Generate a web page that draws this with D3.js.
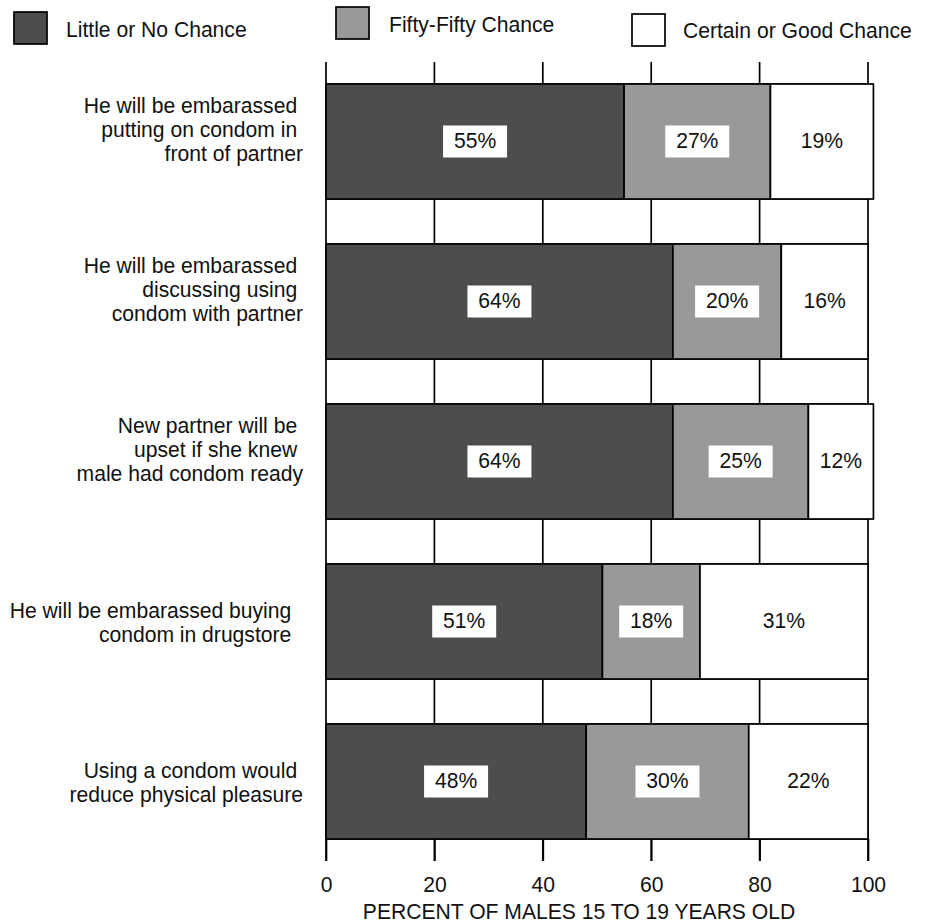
<!DOCTYPE html>
<html><head><meta charset="utf-8">
<script src="https://cdn.jsdelivr.net/npm/d3@7"></script>
<style>
body{margin:0;background:#fff}
text{font-family:"Liberation Sans",Arial,Helvetica,sans-serif;fill:#111;white-space:pre}
</style>
</head><body><svg id="c" width="931" height="923"></svg>
<script>
// ---- data ----
const categories = ["putting", "discussing", "upset", "buying", "pleasure"];
const categoryLines = [
  ["He will be embarassed ", "putting on condom in ", "front of partner", ""],
  ["He will be embarassed ", "discussing using ", "condom with partner", ""],
  ["New partner will be ", "upset if she knew ", "male had condom ready", ""],
  ["He will be embarassed buying  ", "condom in drugstore  "],
  ["Using a condom would ", "reduce physical pleasure"]
];
const littleNoChance = [55, 64, 64, 51, 48];
const fiftyFifty = [27, 20, 25, 18, 30];
const certainGood = [19, 16, 12, 31, 22];
const seriesKeys = ["little", "fifty", "certain"];
const seriesNames = ["Little or No Chance", "Fifty-Fifty Chance", "Certain or Good Chance"];
const seriesColors = ["#4d4d4d", "#999999", "#ffffff"];
const xTicks = [0, 20, 40, 60, 80, 100];
const xTitle = "PERCENT OF MALES 15 TO 19 YEARS OLD";

// ---- layout ----
const FS = 22, SX = 0.96;
const svg = d3.select("#c");
const x = d3.scaleLinear().domain([0, 100]).range([326, 868]);
const y = d3.scaleBand().domain(categories).range([84, 839]).paddingInner(45 / 160).paddingOuter(0);
const bw = y.bandwidth();
const topY = 62, botY = 861;

// text helper: horizontally condensed text anchored at (tx, ty)
function addText(parent, tx, ty, str, anchor) {
  return parent.append("text")
    .attr("transform", `translate(${tx},${ty}) scale(${SX},1)`)
    .attr("text-anchor", anchor || "start")
    .attr("font-size", FS).text(str);
}

const rows = categories.map((c, i) => ({cat: c, little: littleNoChance[i], fifty: fiftyFifty[i], certain: certainGood[i]}));
const stacked = d3.stack().keys(seriesKeys)(rows);

// gridlines / frame verticals
svg.append("g").selectAll("line").data(xTicks).join("line")
  .attr("x1", d => x(d)).attr("x2", d => x(d))
  .attr("y1", topY).attr("y2", botY)
  .attr("stroke", "#000").attr("stroke-width", 1.7);

// horizontal band edges
svg.append("g").selectAll("line").data(categories.flatMap(c => [y(c), y(c) + bw])).join("line")
  .attr("x1", x(0)).attr("x2", x(100))
  .attr("y1", d => d).attr("y2", d => d)
  .attr("stroke", "#000").attr("stroke-width", 1.7);

// bars
const sg = svg.append("g").selectAll("g").data(stacked).join("g")
  .attr("fill", (d, i) => seriesColors[i]);
sg.selectAll("rect").data(d => d).join("rect")
  .attr("x", d => x(d[0])).attr("width", d => x(d[1]) - x(d[0]))
  .attr("y", d => y(d.data.cat)).attr("height", bw)
  .attr("stroke", "#000").attr("stroke-width", 1.7);

// value labels
stacked.forEach((s, si) => {
  const g = svg.append("g");
  s.forEach(d => {
    const cx = (x(d[0]) + x(d[1])) / 2;
    const cy = y(d.data.cat) + bw / 2;
    if (si < 2) {
      g.append("rect").attr("x", cx - 32).attr("y", cy - 16).attr("width", 64).attr("height", 32).attr("fill", "#fff");
    }
    addText(g, cx, cy + 6, (d[1] - d[0]) + "%", "middle");
  });
});

// category labels
const lh = 24;
categories.forEach((c, i) => {
  const lines = categoryLines[i];
  const cy = y(c) + bw / 2 + (lines.length === 2 ? 1.5 : 0);
  const t = svg.append("text").attr("text-anchor", "end").attr("font-size", FS)
    .attr("transform", `translate(303,0) scale(${SX},1)`);
  lines.forEach((ln, j) => {
    t.append("tspan").attr("x", 0)
      .attr("y", cy + (j - (lines.length - 1) / 2) * lh + 7.5)
      .text(ln);
  });
});

// x axis
const ax = svg.append("g").attr("transform", `translate(0,${y.range()[1]})`)
  .call(d3.axisBottom(x).tickValues(xTicks).tickSize(botY - 839).tickPadding(15));
ax.select(".domain").remove();
ax.selectAll(".tick line").attr("stroke", "#000").attr("stroke-width", 1.7);
ax.selectAll(".tick text").attr("font-size", FS).attr("font-family", null).attr("fill", "#111")
  .attr("transform", `scale(${SX},1)`).attr("x", 0);

addText(svg, (x(0) + x(100)) / 2 - 18, 919, xTitle, "middle");

// legend
const legendPos = [[14, 12, 66, 37], [336, 7, 389, 32], [632, 14, 683, 38]];
const lg = svg.append("g");
seriesNames.forEach((n, i) => {
  const p = legendPos[i];
  lg.append("rect").attr("x", p[0]).attr("y", p[1]).attr("width", 33).attr("height", 32)
    .attr("fill", seriesColors[i]).attr("stroke", "#000").attr("stroke-width", 1.7);
  addText(lg, p[2], p[3], n);
});
</script>
</body></html>
